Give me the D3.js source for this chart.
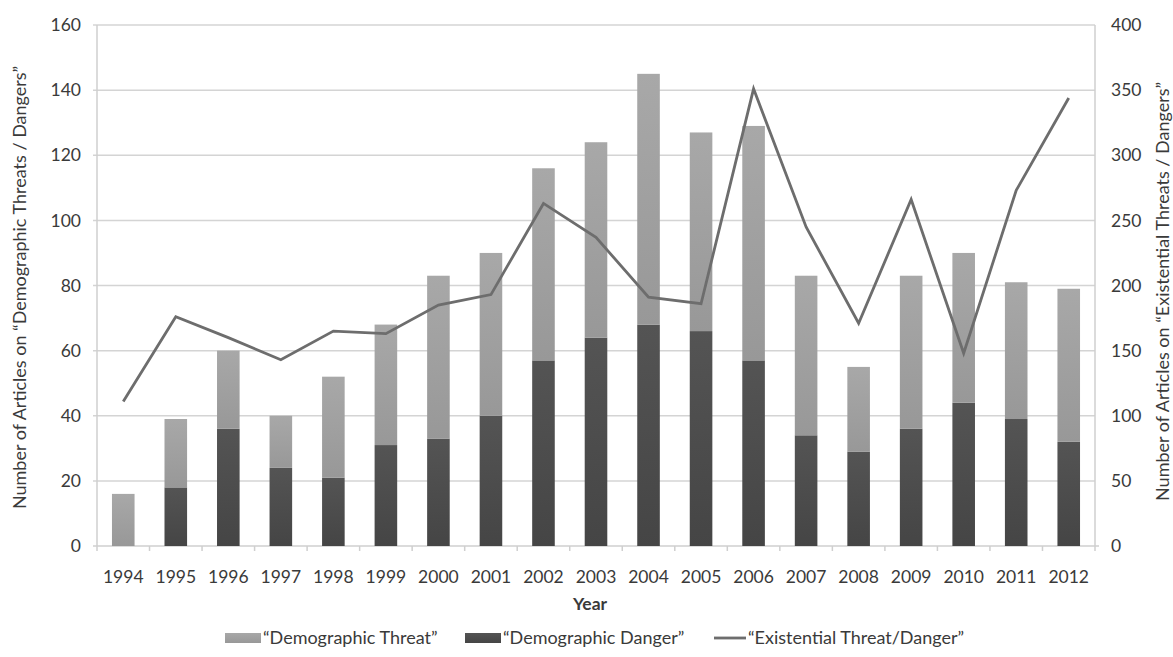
<!DOCTYPE html>
<html>
<head>
<meta charset="utf-8">
<script src="https://cdn.jsdelivr.net/npm/d3@7/dist/d3.min.js"></script>
<style>
  html, body { margin: 0; padding: 0; background: #ffffff; }
  svg { display: block; }
  text { font-family: Lato, "Open Sans", "DejaVu Sans", sans-serif; fill: #3a3a3a; }
</style>
</head>
<body>
<svg id="chart" width="1173" height="657"></svg>
<script>
// Articles per year, 1994–2012
const years = ["1994","1995","1996","1997","1998","1999","2000","2001","2002","2003",
               "2004","2005","2006","2007","2008","2009","2010","2011","2012"];
// "Demographic Danger" (bottom segment of each bar)
const dangerValues = [0,18,36,24,21,31,33,40,57,64,68,66,57,34,29,36,44,39,32];
// "Demographic Threat" (stacked on top of Danger)
const threatValues = [16,21,24,16,31,37,50,50,59,60,77,61,72,49,26,47,46,42,47];
// "Existential Threat/Danger" (right axis)
const existentialValues = [111,176,160,143,165,163,185,193,263,237,191,186,351,245,171,266,148,273,344];

const leftTicks = [0,20,40,60,80,100,120,140,160];
const rightTicks = [0,50,100,150,200,250,300,350,400];

const svg = d3.select("#chart");
const plot = { left: 97, right: 1095, top: 25, bottom: 546 };

const x = d3.scaleBand()
  .domain(years)
  .range([plot.left, plot.right])
  .paddingInner(0.57)
  .paddingOuter(0.285);
const step = x.step();

const yLeft = d3.scaleLinear().domain([0, 160]).range([plot.bottom, plot.top]);
const yRight = d3.scaleLinear().domain([0, 400]).range([plot.bottom, plot.top]);

// Gradients for the two bar series
const defs = svg.append("defs");
function grad(id, top, bottom) {
  const g = defs.append("linearGradient").attr("id", id)
    .attr("x1", 0).attr("y1", 0).attr("x2", 0).attr("y2", 1);
  g.append("stop").attr("offset", "0%").attr("stop-color", top);
  g.append("stop").attr("offset", "100%").attr("stop-color", bottom);
}
grad("gThreat", "#a8a8a8", "#989898");
grad("gDanger", "#545454", "#454545");

// Horizontal gridlines
svg.append("g").selectAll("line").data(leftTicks.filter(d => d > 0)).join("line")
  .attr("x1", plot.left - 4).attr("x2", plot.right)
  .attr("y1", d => yLeft(d)).attr("y2", d => yLeft(d))
  .attr("stroke", "#d4d4d4").attr("stroke-width", 1.5);

// Axis lines
const axisColor = "#cfcfcf";
svg.append("line").attr("x1", plot.left).attr("x2", plot.left)
  .attr("y1", plot.top).attr("y2", plot.bottom)
  .attr("stroke", axisColor).attr("stroke-width", 1.5);
svg.append("line").attr("x1", plot.right).attr("x2", plot.right)
  .attr("y1", plot.top).attr("y2", plot.bottom)
  .attr("stroke", axisColor).attr("stroke-width", 1.5);
svg.append("line").attr("x1", plot.left - 4).attr("x2", plot.right + 4)
  .attr("y1", plot.bottom).attr("y2", plot.bottom)
  .attr("stroke", axisColor).attr("stroke-width", 1.5);

// Category boundary ticks on the x axis
svg.append("g").selectAll("line").data(d3.range(years.length + 1)).join("line")
  .attr("x1", i => plot.left + i * step).attr("x2", i => plot.left + i * step)
  .attr("y1", plot.bottom).attr("y2", plot.bottom + 5)
  .attr("stroke", axisColor).attr("stroke-width", 1.5);

// Stacked bars
const stackData = years.map((yr, i) => ({ year: yr, danger: dangerValues[i], threat: threatValues[i] }));
const series = d3.stack().keys(["danger", "threat"])(stackData);
const fills = { danger: "url(#gDanger)", threat: "url(#gThreat)" };

svg.append("g").selectAll("g").data(series).join("g")
  .attr("fill", s => fills[s.key])
  .selectAll("rect").data(s => s).join("rect")
  .attr("x", d => x(d.data.year))
  .attr("width", x.bandwidth())
  .attr("y", d => yLeft(d[1]))
  .attr("height", d => yLeft(d[0]) - yLeft(d[1]));

// Existential line on the right axis
const line = d3.line()
  .x((d, i) => x(years[i]) + x.bandwidth() / 2)
  .y(d => yRight(d));
svg.append("path").datum(existentialValues)
  .attr("d", line)
  .attr("fill", "none")
  .attr("stroke", "#6d6d6d")
  .attr("stroke-width", 2.8)
  .attr("stroke-linejoin", "miter");

// Tick labels
const fs = 17.5;
svg.append("g").selectAll("text").data(leftTicks).join("text")
  .attr("x", plot.left - 16).attr("y", d => yLeft(d))
  .attr("dy", "0.35em").attr("text-anchor", "end")
  .attr("font-size", fs).text(d => d);

svg.append("g").selectAll("text").data(rightTicks).join("text")
  .attr("x", plot.right + 16).attr("y", d => yRight(d))
  .attr("dy", "0.35em").attr("text-anchor", "start")
  .attr("font-size", fs).text(d => d);

svg.append("g").selectAll("text").data(years).join("text")
  .attr("x", d => x(d) + x.bandwidth() / 2).attr("y", 577)
  .attr("dy", "0.35em").attr("text-anchor", "middle")
  .attr("font-size", fs).text(d => d);

// Axis titles
svg.append("text").attr("x", (plot.left + plot.right) / 2 - 6).attr("y", 604)
  .attr("dy", "0.35em").attr("text-anchor", "middle")
  .attr("font-size", fs).attr("font-weight", "bold").text("Year");

svg.append("text")
  .attr("transform", `translate(20, ${(plot.top + plot.bottom) / 2 + 2}) rotate(-90)`)
  .attr("dy", "0.35em").attr("text-anchor", "middle").attr("font-size", 18)
  .text("Number of Articles on \u201CDemographic Threats / Dangers\u201D");

svg.append("text")
  .attr("transform", `translate(1163, ${(plot.top + plot.bottom) / 2 + 6}) rotate(-90)`)
  .attr("dy", "0.35em").attr("text-anchor", "middle").attr("font-size", 18)
  .text("Number of Articles on \u201CExistential Threats / Dangers\u201D");

// Legend
const legendY = 638;
const legend = svg.append("g");
const legendItems = [
  { label: "\u201CDemographic Threat\u201D", type: "rect", fill: "url(#gThreat)", x: 225 },
  { label: "\u201CDemographic Danger\u201D", type: "rect", fill: "url(#gDanger)", x: 465 },
  { label: "\u201CExistential Threat/Danger\u201D", type: "line", x: 714 }
];
legendItems.forEach(item => {
  if (item.type === "rect") {
    legend.append("rect").attr("x", item.x).attr("y", legendY - 5)
      .attr("width", 36).attr("height", 10).attr("fill", item.fill);
  } else {
    legend.append("line").attr("x1", item.x).attr("x2", item.x + 32)
      .attr("y1", legendY).attr("y2", legendY)
      .attr("stroke", "#6d6d6d").attr("stroke-width", 2.8);
  }
  legend.append("text").attr("x", item.x + (item.type === "rect" ? 38 : 34)).attr("y", legendY)
    .attr("dy", "0.35em").attr("font-size", 18).text(item.label);
});
</script>
</body>
</html>
